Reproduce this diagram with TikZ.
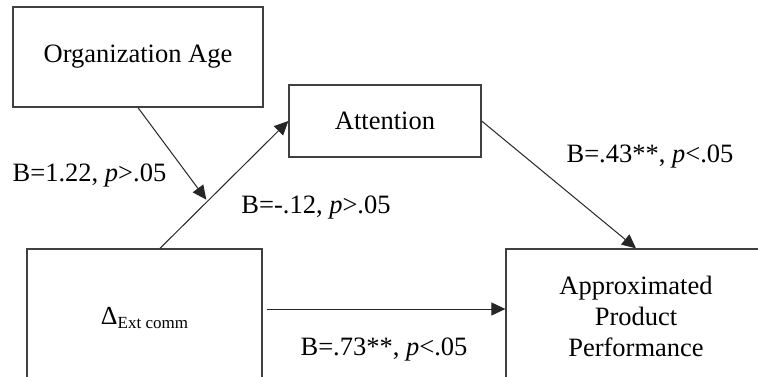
\documentclass[tikz,border=0pt]{standalone}
\usepackage{fontspec}
\setmainfont{Liberation Serif}
\usetikzlibrary{arrows.meta,calc}
\begin{document}
\begin{tikzpicture}[x=0.5pt,y=-0.5pt,
  box/.style={draw=black!75,line width=0.65pt,rectangle,inner sep=0pt,align=center,
    font=\fontsize{13.25}{15.5}\selectfont},
  lbl/.style={anchor=base,inner sep=0pt,font=\fontsize{13.25}{15.5}\selectfont},
  arr/.style={draw=black!85,line width=0.5pt,-{Triangle[length=7pt,width=6.5pt]}},
  ln/.style={draw=black!85,line width=0.5pt}]
\useasboundingbox (0,0) rectangle (758,376);
\clip (0,0) rectangle (758,376);
\fill[white] (0,0) rectangle (758,376);
\node[box,minimum width=125pt,minimum height=50pt] (org) at (138,57) {Organization Age};
\node[box,minimum width=96pt,minimum height=36pt] (att) at (385,121) {Attention};
\node[box,minimum width=117.5pt,minimum height=69pt] (delta) at (144.5,318)
  {{\fontsize{13}{14}\selectfont Δ}\raisebox{-0.4ex}{\fontsize{8.5}{9}\selectfont Ext comm}};
\node[box,minimum width=130pt,minimum height=67pt] (app) at (636,316)
  {Approximated\\Product\\Performance};
\coordinate (ds) at ($(delta.north)+(15.5,0)$);
\coordinate (mid) at ($(ds)!0.37!(att.west)$);
\draw[arr] (ds) -- (att.west);
\draw[arr,shorten >=1pt] (org.south) -- (mid);
\draw[arr] (att.east) -- (app.north);
\coordinate (hs) at ($(delta.east)+(4,-9)$);
\draw[arr] (hs) -- (hs -| app.west);
\node[lbl] (l1) at (89.5,181) {B=1.22, \textit{p}>.05};
\node[lbl] (l2) at (316,213) {B=-.12, \textit{p}>.05};
\node[lbl] (l3) at (650,162) {B=.43**, \textit{p}<.05};
\node[lbl] (l4) at (384,355) {B=.73**, \textit{p}<.05};
\end{tikzpicture}
\end{document}
